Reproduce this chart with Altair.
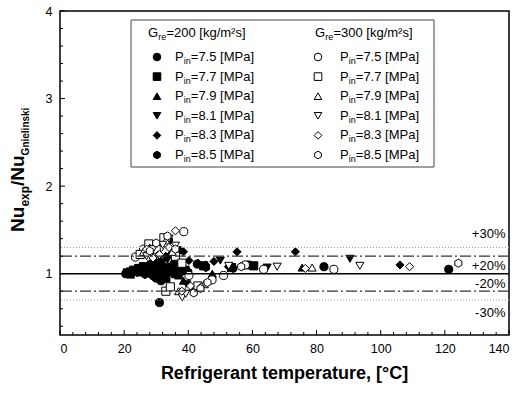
import altair as alt
import pandas as pd

# ---------------- data ----------------
pressures = ["7.5", "7.7", "7.9", "8.1", "8.3", "8.5"]
groups = ["200", "300"]

# G = 200 kg/m2s (filled symbols)
f75_T = [20.5, 21.5, 22.5, 23.5, 24.5, 26, 27.5, 29, 30, 31, 31.5, 33, 35, 37, 42.8, 58.8, 82.3, 121.2]
f75_v = [1.00, 1.01, 1.03, 1.04, 1.02, 1.05, 1.03, 0.98, 0.95, 0.67, 0.92, 1.00, 1.02, 1.06, 1.11, 1.10, 1.08, 1.05]
f77_T = [21, 22, 23, 24.5, 26, 27, 28.5, 30, 31.5, 33, 34.5, 36, 39, 44.8, 53.5, 60.4]
f77_v = [1.01, 1.02, 1.04, 1.06, 1.08, 1.06, 1.10, 1.05, 0.98, 0.95, 1.07, 1.00, 1.04, 1.09, 1.07, 1.09]
f79_T = [22, 23.5, 25, 26.5, 28, 29.5, 31, 32.5, 34, 35.5, 37, 38.5, 41, 47.5, 75.5]
f79_v = [0.99, 1.02, 1.05, 1.08, 1.12, 1.10, 1.15, 1.10, 1.05, 1.02, 0.98, 0.92, 0.85, 1.00, 1.07]
f81_T = [23, 24.5, 26, 27.5, 29, 30.5, 32, 33.5, 35, 36.5, 38, 39.5, 42, 50, 64.6, 90.4]
f81_v = [1.00, 1.03, 1.05, 1.07, 1.09, 1.12, 1.13, 1.16, 1.08, 1.04, 1.00, 0.88, 0.82, 1.15, 1.07, 1.17]
f83_T = [24, 25.5, 27, 28.5, 30, 31.5, 33, 34.5, 36, 37.5, 38.5, 40.2, 43, 45.5, 48, 52.5, 55.2, 73.4, 106]
f83_v = [1.01, 1.03, 1.04, 1.08, 1.10, 1.13, 1.20, 1.22, 1.28, 1.27, 1.25, 1.15, 1.12, 1.10, 1.14, 1.08, 1.25, 1.25, 1.10]
f85_T = [25, 26.5, 28, 29.5, 31, 32.5, 34, 35.5, 37, 40, 45.5, 54, 57]
f85_v = [1.02, 0.99, 1.00, 0.96, 0.94, 1.04, 1.38, 1.12, 1.05, 1.02, 1.07, 1.06, 1.09]

# G = 300 kg/m2s (open symbols)
o75_T = [23.5, 26, 29, 31, 33, 35, 38.6, 40.2, 47.4, 51, 57.8, 63.5, 85.4]
o75_v = [1.19, 1.28, 1.25, 1.30, 1.35, 1.30, 1.48, 0.98, 0.93, 0.98, 1.10, 1.05, 1.05]
o77_T = [25, 27.7, 30, 32.4, 33, 34.4, 36, 38, 43]
o77_v = [1.22, 1.34, 1.28, 1.41, 0.80, 0.85, 1.20, 1.12, 0.86]
o79_T = [26, 28, 30.5, 33, 35, 37, 40, 45, 78.6]
o79_v = [1.25, 1.30, 1.22, 1.38, 1.25, 0.80, 0.85, 0.88, 1.07]
o81_T = [27, 29, 32, 34, 36, 38.1, 39.2, 41.7, 52.6, 67.7, 93.5]
o81_v = [1.20, 1.28, 1.33, 1.40, 1.32, 0.73, 0.77, 0.78, 1.09, 1.08, 1.09]
o83_T = [27, 29, 31, 34, 36, 38, 40.7, 44, 76.5, 109]
o83_v = [1.28, 1.18, 1.22, 1.30, 1.49, 0.80, 0.86, 0.85, 1.06, 1.08]
o85_T = [28, 30, 33.5, 36, 41.7, 43.8, 46, 56.5, 124.2]
o85_v = [1.26, 1.35, 1.43, 1.28, 0.78, 0.83, 0.90, 1.08, 1.12]

x_ticks = [0, 20, 40, 60, 80, 100, 120, 140]
y_ticks = [1, 2, 3, 4]
band_labels = ["+30%", "+20%", "-20%", "-30%"]
band_label_y = [1.457, 1.091, 0.886, 0.555]

# ---------------- build tables ----------------
series = {
    ("200", "7.5"): (f75_T, f75_v), ("200", "7.7"): (f77_T, f77_v),
    ("200", "7.9"): (f79_T, f79_v), ("200", "8.1"): (f81_T, f81_v),
    ("200", "8.3"): (f83_T, f83_v), ("200", "8.5"): (f85_T, f85_v),
    ("300", "7.5"): (o75_T, o75_v), ("300", "7.7"): (o77_T, o77_v),
    ("300", "7.9"): (o79_T, o79_v), ("300", "8.1"): (o81_T, o81_v),
    ("300", "8.3"): (o83_T, o83_v), ("300", "8.5"): (o85_T, o85_v),
}
rows = []
for (g, p), (ts, vs) in series.items():
    for t, v in zip(ts, vs):
        rows.append({"T": t, "R": v, "G": g, "P": p})
df = pd.DataFrame(rows)

FONT = "Liberation Sans"
W, H = 449, 324
YMIN, YMAX = 0.3, 4.0

hexagon = "M0,-1L0.866,-0.5L0.866,0.5L0,1L-0.866,0.5L-0.866,-0.5Z"
shape_scale = alt.Scale(domain=pressures,
                        range=["circle", "square", "triangle-up", "triangle-down", "diamond", hexagon])
fill_scale = alt.Scale(domain=groups, range=["black", "white"])
xs = alt.Scale(domain=[0, 140], nice=False, zero=False)
ys = alt.Scale(domain=[YMIN, YMAX], nice=False, zero=False)

x_axis = alt.Axis(values=x_ticks, ticks=False, domain=False, grid=False, title=None,
                  labelFontSize=12.5, labelPadding=7, labelFont=FONT, labelColor="black", format="d")
y_axis = alt.Axis(values=y_ticks, ticks=False, domain=False, grid=False, title=None,
                  labelFontSize=12.5, labelPadding=8, labelFont=FONT, labelColor="black", format="d")

def X(field):
    return alt.X(field, scale=xs, axis=x_axis)

def Y(field):
    return alt.Y(field, scale=ys, axis=y_axis)

# ---------------- points ----------------
points = alt.Chart(df).mark_point(filled=True, size=66, stroke="black", strokeWidth=1, opacity=1).encode(
    x=X("T:Q"), y=Y("R:Q"),
    shape=alt.Shape("P:N", scale=shape_scale, legend=None),
    fill=alt.Fill("G:N", scale=fill_scale, legend=None),
)

# ---------------- reference lines ----------------
solid = alt.Chart(pd.DataFrame({"R": [1.0]})).mark_rule(color="black", strokeWidth=1.6).encode(y=Y("R:Q"))
dashed = alt.Chart(pd.DataFrame({"R": [1.2, 0.8]})).mark_rule(
    color="#333", strokeWidth=1.3, strokeDash=[11, 3, 2, 3]).encode(y=Y("R:Q"))
dotted = alt.Chart(pd.DataFrame({"R": [1.3, 0.7]})).mark_rule(
    color="#999", strokeWidth=1, strokeDash=[1, 2]).encode(y=Y("R:Q"))

# ---------------- inward ticks ----------------
x_minor = [v for v in range(4, 140, 4) if v % 20 != 0]
y_minor = [round(0.4 + 0.2 * i, 1) for i in range(19)]
y_minor = [v for v in y_minor if abs(v - round(v)) > 1e-6]
xt_major = alt.Chart(pd.DataFrame({"T": x_ticks})).mark_rule(color="black", strokeWidth=1).encode(
    x=X("T:Q"), y=alt.value(H), y2=alt.value(H - 5))
xt_minor = alt.Chart(pd.DataFrame({"T": x_minor})).mark_rule(color="black", strokeWidth=1).encode(
    x=X("T:Q"), y=alt.value(H), y2=alt.value(H - 3))
yt_major = alt.Chart(pd.DataFrame({"R": y_ticks})).mark_rule(color="black", strokeWidth=1).encode(
    y=Y("R:Q"), x=alt.value(0), x2=alt.value(5))
yt_minor = alt.Chart(pd.DataFrame({"R": y_minor})).mark_rule(color="black", strokeWidth=1).encode(
    y=Y("R:Q"), x=alt.value(0), x2=alt.value(3))

# ---------------- band labels ----------------
bl = alt.Chart(pd.DataFrame({"T": [138.9] * 4, "R": band_label_y, "txt": band_labels})).mark_text(
    align="right", baseline="middle", fontSize=13, font=FONT, color="black").encode(
    x=X("T:Q"), y=Y("R:Q"), text="txt:N")

# ---------------- legend box ----------------
box = alt.Chart(pd.DataFrame({"a": [0]})).mark_rect(fill="white", stroke="#444", strokeWidth=1).encode(
    x=alt.value(71), x2=alt.value(374), y=alt.value(9), y2=alt.value(156))

row0, step = 46, 19.6
sym_x = {"200": 97, "300": 258}
txt_x = {"200": 115, "300": 280}
hdr_x = {"200": 88, "300": 255}
lp, lt_main, lt_sub = [], [], []
for g in groups:
    for i, p in enumerate(pressures):
        yy = row0 + i * step
        lp.append({"lx": sym_x[g], "ly": yy, "G": g, "P": p})
        lt_main.append({"lx": txt_x[g], "ly": yy, "txt": "P"})
        lt_sub.append({"lx": txt_x[g] + 8.8, "ly": yy + 4, "txt": "in"})
        lt_main.append({"lx": txt_x[g] + 15.8, "ly": yy, "txt": "=" + p + " [MPa]"})
    lt_main.append({"lx": hdr_x[g], "ly": 22, "txt": "G"})
    lt_sub.append({"lx": hdr_x[g] + 10.2, "ly": 26, "txt": "re"})
    lt_main.append({"lx": hdr_x[g] + 18.4, "ly": 22, "txt": "=" + g + " [kg/m²s]"})

leg_pts = alt.Chart(pd.DataFrame(lp)).mark_point(filled=True, size=58, stroke="black", strokeWidth=1,
                                                 opacity=1).encode(
    x=alt.X("lx:Q", scale=None), y=alt.Y("ly:Q", scale=None),
    shape=alt.Shape("P:N", scale=shape_scale, legend=None),
    fill=alt.Fill("G:N", scale=fill_scale, legend=None))
leg_txt = alt.Chart(pd.DataFrame(lt_main)).mark_text(align="left", baseline="middle", fontSize=13,
                                                     font=FONT, color="black").encode(
    x=alt.X("lx:Q", scale=None), y=alt.Y("ly:Q", scale=None), text="txt:N")
leg_sub = alt.Chart(pd.DataFrame(lt_sub)).mark_text(align="left", baseline="middle", fontSize=9,
                                                    font=FONT, color="black").encode(
    x=alt.X("lx:Q", scale=None), y=alt.Y("ly:Q", scale=None), text="txt:N")

# ---------------- axis titles ----------------
xtitle = alt.Chart(pd.DataFrame({"txt": ["Refrigerant temperature, [°C]"]})).mark_text(
    align="center", baseline="alphabetic", fontSize=18, fontWeight="bold", font=FONT, color="black").encode(
    x=alt.value(W / 2), y=alt.value(368), text="txt:N")

ypieces = [("Nu", 19, -36.5, 221), ("exp", 12, -31, 195.6), ("/Nu", 19, -36.5, 175), ("Gnielinski", 10, -31, 144.4)]
ytitle_layers = []
for txt, fs, bx, by in ypieces:
    ytitle_layers.append(
        alt.Chart(pd.DataFrame({"txt": [txt]})).mark_text(
            align="left", baseline="alphabetic", angle=270, fontSize=fs, fontWeight="bold",
            font=FONT, color="black").encode(x=alt.value(bx), y=alt.value(by), text="txt:N"))

chart = alt.layer(
    points, dotted, dashed, solid, xt_major, xt_minor, yt_major, yt_minor, bl,
    box, leg_pts, leg_txt, leg_sub, xtitle, *ytitle_layers
).properties(
    width=W, height=H,
    padding={"left": 60, "top": 11, "right": 16, "bottom": 59},
    autosize=alt.AutoSizeParams(type="none"),
    background="white",
).configure_view(stroke="black", strokeWidth=1.5)

chart.save("out.html", embed_options={"renderer": "svg", "actions": False})
